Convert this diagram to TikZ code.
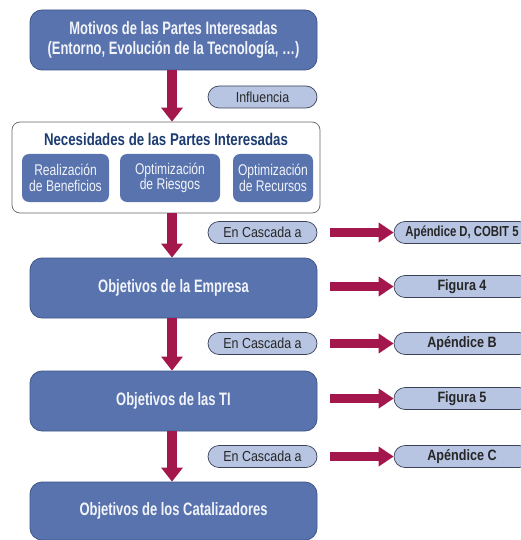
\documentclass[tikz,border=0pt]{standalone}
\usepackage{fontspec}
\setmainfont{Liberation Sans}[FakeStretch=0.78]
\newfontfamily\boxfont{Liberation Sans}[FakeStretch=0.72]
\newfontfamily\pillfont{Liberation Sans}[FakeStretch=0.86]
\newfontfamily\reffont{Liberation Sans}[FakeStretch=0.84]
\usetikzlibrary{arrows.meta,calc}
\definecolor{boxblue}{HTML}{5873AD}
\definecolor{boxedge}{HTML}{3E5788}
\definecolor{pillfill}{HTML}{B8C5E2}
\definecolor{pilledge}{HTML}{3A4258}
\definecolor{arrowred}{HTML}{A3174C}
\definecolor{navy}{HTML}{1D3D72}
\definecolor{lighttext}{HTML}{F2F4FA}
\tikzset{
  mainbox/.style={draw=boxedge, line width=0.8pt, fill=boxblue, rounded corners=12pt,
    minimum width=287pt, minimum height=60pt, align=center, text=lighttext,
    font=\boxfont\fontsize{18}{19.5}\selectfont\bfseries, inner sep=0pt},
  subbox/.style={fill=boxblue, rounded corners=7pt, minimum height=48pt,
    align=center, text=lighttext, font=\fontsize{15.5}{15.5}\selectfont, inner sep=0pt},
  container/.style={draw=gray!80!black, line width=0.7pt, fill=white, rounded corners=8pt,
    minimum width=308pt, minimum height=91pt, inner sep=0pt},
  pill/.style={draw=pilledge, line width=0.7pt, fill=pillfill, rounded corners=11pt,
    minimum height=22pt, inner sep=0pt, text=black!85},
  leftpill/.style={pill, minimum width=109pt, font=\pillfont\fontsize{14.5}{15}\selectfont},
  rightpill/.style={pill, minimum width=136pt, font=\reffont\fontsize{15}{15}\selectfont\bfseries},
  varrow/.style={draw=arrowred, line width=10pt, -{Triangle[length=14pt,width=21pt]}},
  harrow/.style={draw=arrowred, line width=9.5pt, -{Triangle[length=15pt,width=19pt]}},
}
\begin{document}
\begin{tikzpicture}[x=1pt,y=-1pt]
\clip (0,0) rectangle (521,540);
\fill[white] (0,0) rectangle (521,540);

% main column
\node[mainbox] (motivos) at (173.5,40) {Motivos de las Partes Interesadas\\(Entorno, Evolución de la Tecnología, \dots)};
\node[container] (nec) at (166,167.5) {};
\node[font=\fontsize{17}{19}\selectfont\bfseries, text=navy] (nectitle) at (166,139) {Necesidades de las Partes Interesadas};
\node[subbox, minimum width=87pt] (benef) at (65.5,178) {Realización\\de Beneficios};
\node[subbox, minimum width=100pt] (riesg) at (170,178) {Optimización\\de Riesgos};
\node[subbox, minimum width=80pt] (recur) at (273,178) {Optimización\\de Recursos};
\node[mainbox] (empresa) at (173.5,288) {Objetivos de la Empresa};
\node[mainbox] (ti) at (173.5,401) {Objetivos de las TI};
\node[mainbox, minimum height=58pt] (catal) at (173.5,511) {Objetivos de los Catalizadores};

% labels beside the column
\node[leftpill] (infl) at (262.5,97) {Influencia};
\node[leftpill] (cas1) at (262.5,232.5) {En Cascada a};
\node[leftpill] (cas2) at (262.5,343.5) {En Cascada a};
\node[leftpill] (cas3) at (262.5,456.5) {En Cascada a};

% references on the right
\node[rightpill, font=\fontsize{14.5}{15}\selectfont\bfseries] (apD) at (462,232.5) {Apéndice D, COBIT 5};
\node[rightpill] (fig4) at (462,286.5) {Figura 4};
\node[rightpill] (apB) at (462,343.5) {Apéndice B};
\node[rightpill] (fig5) at (462,398.5) {Figura 5};
\node[rightpill] (apC) at (462,456.5) {Apéndice C};

% vertical flow
\draw[varrow] ([xshift=-1.5pt]motivos.south) -- ([xshift=-1.5pt]motivos.south |- nec.north);
\draw[varrow] ([xshift=-1.5pt]empresa.north |- nec.south) -- ([xshift=-1.5pt]empresa.north);
\draw[varrow] ([xshift=-1.5pt]empresa.south) -- ([xshift=-1.5pt]ti.north);
\draw[varrow] ([xshift=-1.5pt]ti.south) -- ([xshift=-1.5pt]catal.north);

% horizontal arrows
\draw[harrow] ([xshift=13pt]cas1.east) -- (apD.west);
\draw[harrow] ([xshift=13pt]empresa.east |- fig4.west) -- (fig4.west);
\draw[harrow] ([xshift=13pt]cas2.east) -- (apB.west);
\draw[harrow] ([xshift=13pt]ti.east |- fig5.west) -- (fig5.west);
\draw[harrow] ([xshift=13pt]cas3.east) -- (apC.west);
\end{tikzpicture}
\end{document}
